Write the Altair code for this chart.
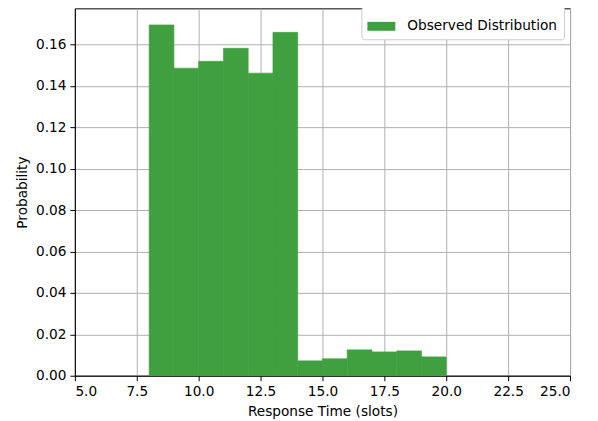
import altair as alt
import pandas as pd

# Histogram bins (response time in slots) and observed probabilities
bin_start = [8, 9, 10, 11, 12, 13, 14, 15, 16, 17, 18, 19]
bin_end = [9, 10, 11, 12, 13, 14, 15, 16, 17, 18, 19, 20]
probability = [0.1695, 0.1486, 0.1519, 0.1582, 0.1462, 0.1659,
               0.0072, 0.0082, 0.0125, 0.0115, 0.0120, 0.0091]
series_name = "Observed Distribution"

x_ticks = [5.0, 7.5, 10.0, 12.5, 15.0, 17.5, 20.0, 22.5, 25.0]
y_ticks = [0.00, 0.02, 0.04, 0.06, 0.08, 0.10, 0.12, 0.14, 0.16]

df = pd.DataFrame({
    "start": bin_start,
    "end": bin_end,
    "prob": probability,
    "series": [series_name] * len(bin_start),
})

W, H = 496, 368
FS = 13.7
BAR_COLOR = "#40a040"

bars = alt.Chart(df).mark_bar(stroke=BAR_COLOR, strokeWidth=0.6).encode(
    x=alt.X(
        "start:Q",
        scale=alt.Scale(domain=[5, 25], nice=False, zero=False),
        axis=alt.Axis(
            values=x_ticks, format=".1f", title="Response Time (slots)",
            titleX=W / 2, titleY=40, titleBaseline="alphabetic",
            labelPadding=4,
        ),
    ),
    x2="end:Q",
    y=alt.Y(
        "prob:Q",
        scale=alt.Scale(domain=[0, 0.1775], nice=False),
        axis=alt.Axis(
            values=y_ticks, format=".2f", title="Probability",
            titleX=-48, titleY=H / 2, titleAngle=-90,
            titleBaseline="alphabetic", titleAlign="center",
            labelPadding=4,
        ),
    ),
    y2=alt.datum(0),
    color=alt.Color(
        "series:N",
        scale=alt.Scale(range=[BAR_COLOR]),
        legend=alt.Legend(
            title=None,
            orient="none",
            legendX=287,
            legendY=-2,
            symbolType="M-1,-0.32H1V0.32H-1Z",
            symbolSize=784,
            symbolStrokeWidth=0,
            labelFontSize=FS,
            labelOffset=12,
            padding=6,
            fillColor="white",
            strokeColor="#cccccc",
            cornerRadius=3,
        ),
    ),
)

chart = bars.properties(
    width=W,
    height=H,
    autosize=alt.AutoSizeParams(type="none"),
    padding={"left": 67, "top": 0, "right": 20, "bottom": 45},
).configure(
    font="DejaVu Sans",
).configure_view(
    stroke="black",
    strokeWidth=1,
).configure_axis(
    grid=True,
    gridColor="#b0b0b0",
    gridWidth=1,
    domainColor="black",
    domainWidth=1,
    tickColor="black",
    tickSize=5,
    tickWidth=1,
    labelFontSize=FS,
    labelColor="black",
    titleFontSize=FS,
    titleFontWeight="normal",
    titleColor="black",
    zindex=1,
).configure_legend(
    labelColor="black",
    labelFont="DejaVu Sans",
)

chart.save("out.html", embed_options={"renderer": "svg", "actions": False})
